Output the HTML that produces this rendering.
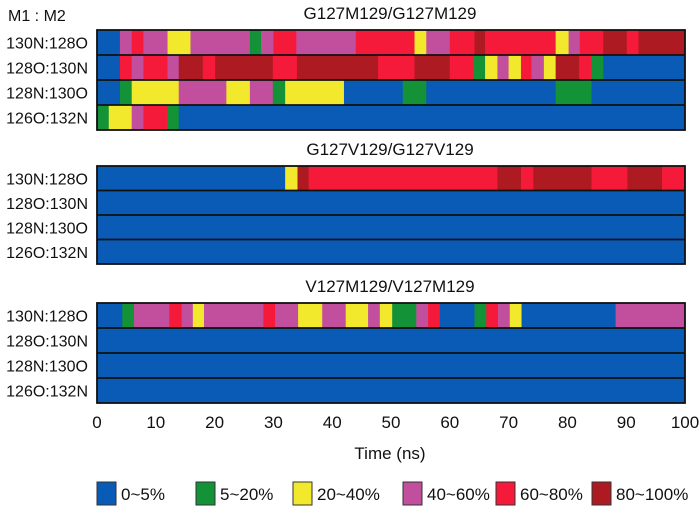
<!DOCTYPE html>
<html><head><meta charset="utf-8"><style>
body{margin:0;background:#fff;width:700px;height:507px;overflow:hidden;font-family:"Liberation Sans",sans-serif}
svg text{font-family:"Liberation Sans",sans-serif;fill:#111}
</style></head><body>
<svg id="c" width="700" height="507" xmlns="http://www.w3.org/2000/svg"></svg>
<script>
const levelLabels=["0~5%","5~20%","20~40%","40~60%","60~80%","80~100%"];
const levelColors=["#0a5bb5","#139238","#f3e92c","#c24f9e","#f61a3a","#ad1a22"];
const rowLabels=["130N:128O","128O:130N","128N:130O","126O:132N"];
const panelTitles=["G127M129/G127M129","G127V129/G127V129","V127M129/V127M129"];
const xTicks=[0,10,20,30,40,50,60,70,80,90,100];
// segments: end times and levels (0..5) per row
const p1r1Ends=[3.9,5.9,7.9,12,15.9,26,27.9,30,33.9,44,54,56,60,64.2,66,78,80.2,82.1,86.1,90.1,92.1,100];
const p1r1Lev=[0,3,4,3,2,3,1,3,4,3,4,2,3,4,5,4,2,3,4,5,4,5];
const p1r2Ends=[3.9,5.9,7.9,12,13.9,18,20.1,29.9,34,47.8,54,60,64,66,68.1,70,72.1,73.9,76,78,82,84.1,86.1,100];
const p1r2Lev=[0,4,3,4,3,5,4,5,4,5,4,5,4,1,2,3,2,4,3,2,5,4,1,0];
const p1r3Ends=[3.9,5.9,13.9,22,26,29.9,32,42,52,56,78,84.1,100];
const p1r3Lev=[0,1,2,3,2,3,1,2,0,1,0,1,0];
const p1r4Ends=[2,5.9,7.9,12,13.9,100];
const p1r4Lev=[1,2,3,4,1,0];
const p2r1Ends=[32,34.1,36,68.1,72.1,74.2,84.1,90.2,96.1,100];
const p2r1Lev=[0,2,5,4,5,4,5,4,5,4];
const p3r1Ends=[4.3,6.3,12.3,14.4,16.3,18.2,28.3,30.3,34.2,38.3,42.3,46.1,48.1,50.2,54.3,56.3,58.3,64.2,66.2,68.2,70.2,72.2,88.2,100];
const p3r1Lev=[0,1,3,4,3,2,3,4,3,2,3,2,3,2,1,3,4,0,1,4,3,2,0,3];
const blueEnds=[100], blueLev=[0];
const panels=[
 {top:30,bottom:130,rows:[[p1r1Ends,p1r1Lev],[p1r2Ends,p1r2Lev],[p1r3Ends,p1r3Lev],[p1r4Ends,p1r4Lev]]},
 {top:166,bottom:264,rows:[[p2r1Ends,p2r1Lev],[blueEnds,blueLev],[blueEnds,blueLev],[blueEnds,blueLev]]},
 {top:303,bottom:403,rows:[[p3r1Ends,p3r1Lev],[blueEnds,blueLev],[blueEnds,blueLev],[blueEnds,blueLev]]}
];
const X0=97,X1=685;
const xs=t=>X0+(X1-X0)*t/100;
const svg=document.getElementById('c');
const NS="http://www.w3.org/2000/svg";
function mk(tag,attrs,txt){const e=document.createElementNS(NS,tag);for(const k in attrs)e.setAttribute(k,attrs[k]);if(txt!==undefined)e.textContent=txt;svg.appendChild(e);return e;}
let t=mk('text',{x:8,y:21,'font-size':16},'M1 : M2');


panels.forEach((p,pi)=>{
  const tt=mk('text',{x:390,y:p.top-11,'font-size':17,'text-anchor':'middle'},panelTitles[pi]);
  
  
  const rh=(p.bottom-p.top)/4;
  p.rows.forEach((r,ri)=>{
    const y=p.top+ri*rh;
    let s=0;
    r[0].forEach((e,si)=>{
      const rc=mk('rect',{x:xs(s),y:y,width:xs(e)-xs(s)+0.4,height:rh,fill:levelColors[r[1][si]]});
      
      
      s=e;
    });
    const lb=mk('text',{x:88,y:y+rh/2+6,'font-size':16,'text-anchor':'end'},rowLabels[ri]);
    
    
    if(ri>0){const ln=mk('line',{x1:X0,x2:X1,y1:y,y2:y,stroke:'#111','stroke-width':1.8});
      
      }
  });
  const fr=mk('rect',{x:X0,y:p.top,width:X1-X0,height:p.bottom-p.top,fill:'none',stroke:'#111','stroke-width':1.8});
  
  
});
xTicks.forEach(v=>{
  const tx=mk('text',{x:xs(v),y:428,'font-size':17,'text-anchor':'middle'},String(v));
  
  
});
t=mk('text',{x:390,y:459,'font-size':17,'text-anchor':'middle'},'Time (ns)');


const legX=[97,196,293,403,496,592];
levelLabels.forEach((l,i)=>{
  const b=mk('rect',{x:legX[i],y:482,width:19,height:23,fill:levelColors[i],stroke:'#333','stroke-width':1});
  
  
  const lt=mk('text',{x:legX[i]+24,y:500,'font-size':17},l);
  
  
});
</script>
</body></html>
